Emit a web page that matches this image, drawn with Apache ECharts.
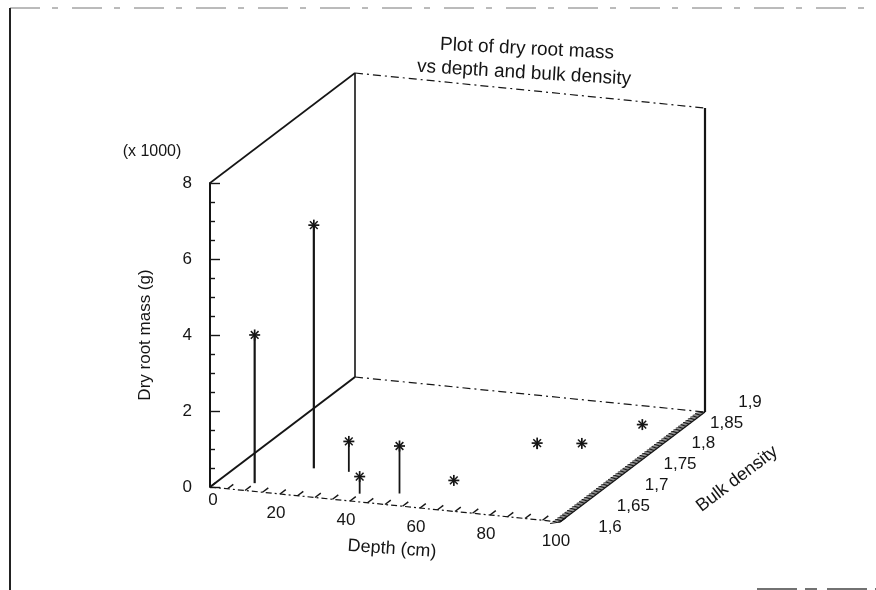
<!DOCTYPE html>
<html>
<head>
<meta charset="utf-8">
<script src="https://cdn.jsdelivr.net/npm/echarts@6/dist/echarts.min.js"></script>
<style>html,body{margin:0;padding:0;background:#fff}#c{width:876px;height:590px}</style>
</head>
<body>
<div id="c"></div>
<script>
// ---- data ----
const depth = [10, 20, 30, 40, 50, 60, 70, 80, 89];
const bulkDensity = [1.62, 1.67, 1.67, 1.62, 1.63, 1.67, 1.77, 1.79, 1.85];
const dryMass = [3.9, 6.4, 0.8, 0.45, 1.25, 0.05, 0.16, 0.05, 0.05];
const depthTicks = [0, 20, 40, 60, 80, 100];
const bulkTicks = [1.6, 1.65, 1.7, 1.75, 1.8, 1.85, 1.9];
const bulkTickLabels = ['1,6', '1,65', '1,7', '1,75', '1,8', '1,85', '1,9'];
const massTicks = [0, 2, 4, 6, 8];

// ---- projection / style constants ----
const D_MIN = 0, D_MAX = 100, B_MIN = 1.6, B_MAX = 1.9, M_MIN = 0, M_MAX = 8;
const BX = 145, BY = -110, DEPTH_SLOPE = 0.1;
const FONT = '"Liberation Sans", Arial, sans-serif';
const INK = '#151515';

function proj(api, d, b, m) {
  const p = api.coord([d, m]);
  const o = api.coord([D_MIN, M_MIN]);
  const f = (b - B_MIN) / (B_MAX - B_MIN);
  return [p[0] + BX * f, p[1] + DEPTH_SLOPE * (p[0] - o[0]) + BY * f];
}
function seg(a, b, w, dash, color) {
  return {type: 'line', shape: {x1: a[0], y1: a[1], x2: b[0], y2: b[1]},
    style: {stroke: color || INK, lineWidth: w, lineDash: dash || null}, silent: true};
}
function txt(x, y, s, size, rot, align) {
  return {type: 'text', x: x, y: y, rotation: rot || 0,
    style: {text: s, font: size + 'px ' + FONT, fill: INK, align: align || 'center', verticalAlign: 'middle'}, silent: true};
}

function renderFrame(params, api) {
  const ch = [];
  const P = (d, b, m) => proj(api, d, b, m);
  // solid box edges
  ch.push(seg(P(0, B_MIN, M_MAX), P(0, B_MAX, M_MAX), 1.6));
  ch.push(seg(P(0, B_MIN, 0), P(0, B_MAX, 0), 2));
  ch.push(seg(P(0, B_MAX, 0), P(0, B_MAX, M_MAX), 1.6));
  ch.push(seg(P(D_MAX, B_MAX, 0), P(D_MAX, B_MAX, M_MAX), 2.2));
  // dashed back edges
  ch.push(seg(P(0, B_MAX, M_MAX), P(D_MAX, B_MAX, M_MAX), 1.2, [8, 4, 2, 4]));
  ch.push(seg(P(0, B_MAX, 0), P(D_MAX, B_MAX, 0), 1.2, [8, 4, 2, 4]));
  // depth axis (front bottom)
  ch.push(seg(P(0, B_MIN, 0), P(D_MAX, B_MIN, 0), 1.2, [6, 3, 2, 3]));
  for (let d = 0; d <= D_MAX; d += 5) {
    const a = P(d, B_MIN, 0), b = P(d, B_MIN + 0.012, 0);
    ch.push(seg(a, b, 1.4));
  }
  depthTicks.forEach((d, i) => {
    const p = P(d, B_MIN, 0);
    ch.push(txt(p[0] - 4 + (i === 0 ? 7 : 0), p[1] + 19 - (i === 0 ? 6 : 0), String(d), 17));
  });
  // bulk density axis (right bottom)
  ch.push(seg(P(D_MAX, B_MIN, 0), P(D_MAX, B_MAX, 0), 1.2));
  for (let k = 0; k <= 60; k++) {
    const b = B_MIN + k * 0.005;
    const a = P(D_MAX, b, 0), c = P(D_MAX - 2, b - 0.006, 0);
    ch.push(seg(a, c, 1));
  }
  bulkTicks.forEach((b, i) => {
    const p = P(D_MAX, b, 0);
    const f = (b - B_MIN) / (B_MAX - B_MIN);
    ch.push(txt(p[0] + 50 - 5 * f, p[1] + 5 - 15 * f, bulkTickLabels[i], 17));
  });
  // axis titles
  ch.push(txt(392, 549, 'Depth (cm)', 18, -0.07));
  ch.push(txt(737, 479, 'Bulk density', 18, 0.65));
  ch.push(txt(145, 335, 'Dry root mass (g)', 17, Math.PI / 2));
  ch.push(txt(152, 152, '(x 1000)', 16));
  // chart title
  ch.push(txt(527, 49, 'Plot of dry root mass', 19, -0.05));
  ch.push(txt(524, 73, 'vs depth and bulk density', 19, -0.06));
  // scanned page border
  ch.push(seg([10, 8], [870, 8], 1, [30, 12, 6, 14], '#777'));
  ch.push(seg([10, 8], [10, 590], 2, null, '#222'));
  ch.push(seg([757, 589], [876, 589], 1.5, [40, 8, 12, 10], '#444'));
  return {type: 'group', children: ch};
}

function renderPoints(params, api) {
  const d = api.value(0), m = api.value(1), b = api.value(2);
  const top = proj(api, d, b, m);
  const base = proj(api, d, b, 0);
  const r = 5.5;
  return {type: 'group', children: [
    seg(base, top, m > 2 ? 2.2 : 1.8),
    seg([top[0] - r, top[1]], [top[0] + r, top[1]], 1.7),
    seg([top[0], top[1] - r], [top[0], top[1] + r], 1.7),
    seg([top[0] - r * 0.7, top[1] - r * 0.7], [top[0] + r * 0.7, top[1] + r * 0.7], 1.5),
    seg([top[0] - r * 0.7, top[1] + r * 0.7], [top[0] + r * 0.7, top[1] - r * 0.7], 1.5)
  ]};
}

const chart = echarts.init(document.getElementById('c'), null, {renderer: 'canvas'});
chart.setOption({
  backgroundColor: '#fff',
  animation: false,
  grid: {left: 210, top: 183, width: 350, height: 304},
  xAxis: {type: 'value', min: D_MIN, max: D_MAX, show: false},
  yAxis: {
    type: 'value', min: M_MIN, max: M_MAX, interval: massTicks[1] - massTicks[0],
    axisLine: {show: true, lineStyle: {color: INK, width: 2}},
    axisTick: {show: true, inside: true, length: 10, lineStyle: {color: INK, width: 1.4}},
    minorTick: {show: true, splitNumber: 4, length: 5, lineStyle: {color: INK, width: 1.4}},
    splitLine: {show: false},
    axisLabel: {color: INK, fontSize: 17, fontFamily: FONT, margin: 18}
  },
  series: [
    {type: 'custom', name: 'frame', coordinateSystem: 'cartesian2d', clip: false, silent: true,
      data: [[0, 0]], renderItem: renderFrame, z: 1},
    {type: 'custom', name: 'dry root mass', coordinateSystem: 'cartesian2d', clip: false,
      encode: {x: 0, y: 1},
      data: depth.map((d, i) => [d, dryMass[i], bulkDensity[i]]),
      renderItem: renderPoints, z: 2}
  ]
});
</script>
</body>
</html>
